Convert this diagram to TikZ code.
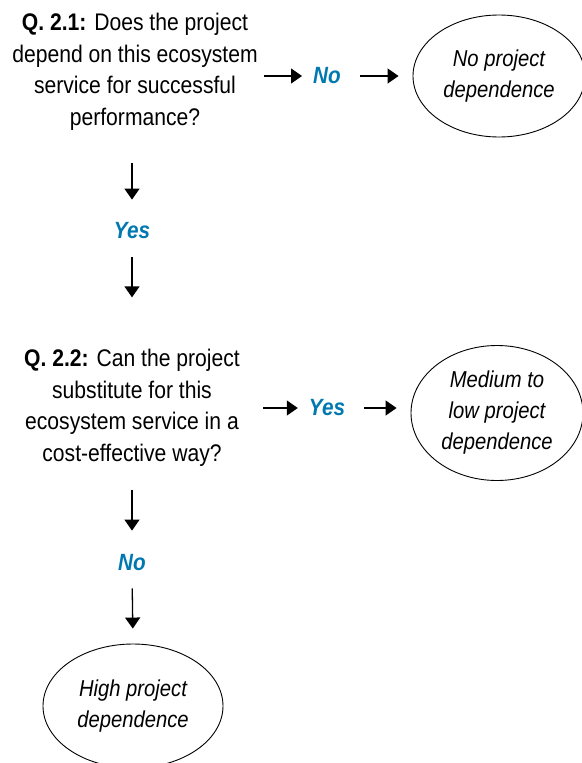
\documentclass[tikz,border=0pt]{standalone}
\usepackage{fontspec}
\setmainfont[FakeStretch=0.88]{Liberation Sans}
\usetikzlibrary{arrows.meta,shapes.geometric}
\definecolor{ansblue}{RGB}{0,121,176}
\begin{document}
\begin{tikzpicture}[x=1pt,y=-1pt,
  qtext/.style={align=center, font=\fontsize{24}{31.5}\selectfont, inner sep=0pt},
  ans/.style={font=\fontsize{23.5}{31}\selectfont\bfseries\itshape, text=ansblue, inner sep=0pt},
  outcome/.style={draw, ellipse, line width=0.9pt, align=center, font=\fontsize{23}{31}\selectfont\itshape, inner sep=0pt},
  arr/.style={-{Triangle[length=11pt,width=15pt]}, line width=1.3pt}]
\useasboundingbox (0,0) rectangle (581,763);
\node[qtext] (q1) at (135,72) {\textbf{Q. 2.1:} Does the project\\depend on this ecosystem\\service for successful\\performance?};
\node[ans] (no1) at (327,76) {No};
\node[outcome, minimum width=172pt, minimum height=122pt] (e1) at (499,76) {No project\\dependence};
\node[ans] (yes1) at (132,231) {Yes};
\node[qtext] (q2) at (132,408) {\textbf{Q. 2.2:} Can the project\\substitute for this\\ecosystem service in a\\cost-effective way?};
\node[ans] (yes2) at (327,408) {Yes};
\node[outcome, minimum width=172pt, minimum height=135pt] (e2) at (497,413) {Medium to\\low project\\dependence};
\node[ans] (no2) at (132,563) {No};
\node[outcome, minimum width=180pt, minimum height=124pt] (e3) at (133,706) {High project\\dependence};
% horizontal arrows
\draw[arr, shorten <=6pt, shorten >=11pt] (q1.east |- no1.west) -- (no1.west);
\draw[arr, shorten <=19pt, shorten >=14pt] (no1.east) -- (e1.west |- no1.east);
\draw[arr, shorten <=23pt, shorten >=11pt] (q2.east |- yes2.west) -- (yes2.west);
\draw[arr, shorten <=19pt, shorten >=14pt] (yes2.east) -- (e2.west |- yes2.east);
% vertical arrows
\draw[arr, shorten <=32pt, shorten >=23pt] (yes1.north |- q1.south) -- (yes1.north);
\draw[arr, shorten <=17.5pt, shorten >=52pt] (yes1.south) -- (yes1.south |- q2.north);
\draw[arr, shorten <=23pt, shorten >=24pt] (no2.north |- q2.south) -- (no2.north);
\draw[arr, shorten <=17pt, shorten >=15pt] (no2.south) -- (e3.north);
\end{tikzpicture}
\end{document}
